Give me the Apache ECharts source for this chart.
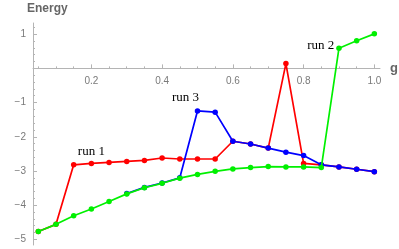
<!DOCTYPE html>
<html>
<head>
<meta charset="utf-8">
<script src="https://cdn.jsdelivr.net/npm/echarts@6/dist/echarts.min.js"></script>
<style>html,body{margin:0;padding:0;background:#fff}#c{width:399px;height:249px}</style>
</head>
<body>
<div id="c"></div>
<script>
// ---- data ----
const gValues = [0.05,0.10,0.15,0.20,0.25,0.30,0.35,0.40,0.45,0.50,0.55,0.60,0.65,0.70,0.75,0.80,0.85,0.90,0.95,1.00];
const run1 = [-4.77,-4.56,-2.82,-2.78,-2.75,-2.72,-2.69,-2.62,-2.65,-2.65,-2.65,-2.13,-2.21,-2.33,0.14,-2.78,-2.82,-2.88,-2.95,-3.02];
const run2 = [-4.77,-4.56,-4.31,-4.11,-3.89,-3.67,-3.49,-3.36,-3.21,-3.10,-3.01,-2.94,-2.90,-2.87,-2.88,-2.88,-2.90,0.59,0.81,1.01];
const run3 = [null,null,null,null,null,-3.66,-3.48,-3.35,-3.20,-1.245,-1.28,-2.13,-2.21,-2.33,-2.45,-2.55,-2.82,-2.88,-2.95,-3.02];
const seriesNames = ['run 1','run 2','run 3'];
const xMajorTicks = [0.2,0.4,0.6,0.8,1.0];
const xMinorTicks = [0.05,0.1,0.15,0.25,0.3,0.35,0.45,0.5,0.55,0.65,0.7,0.75,0.85,0.9,0.95];
const yMajorTicks = [-5,-4,-3,-2,-1,1];
const yMinorTicks = [-5.0,-4.8,-4.6,-4.4,-4.2,-3.8,-3.6,-3.4,-3.2,-2.8,-2.6,-2.4,-2.2,-1.8,-1.6,-1.4,-1.2,-0.8,-0.6,-0.4,-0.2,0.2,0.4,0.6,0.8,1.2];

// ---- styling ----
const axisGray = '#b4b4b4';
const labelGray = '#7a7a7a';
const labelFont = {fontFamily:'Liberation Serif', fontSize:13, color:'#000'};

function build(vals, labelIdx, labelCfg) {
  return vals.map((v, i) => {
    const item = {value: [gValues[i], v === null ? '-' : v]};
    if (i === labelIdx) item.label = Object.assign({show:true, formatter: labelCfg.text}, labelFont, labelCfg.opts);
    return item;
  });
}

const common = {type:'line', xAxisIndex:0, yAxisIndex:0, symbol:'circle', symbolSize:5.5, lineStyle:{width:1.7}, animation:false, connectNulls:false};

const xMin = 0.035, xMax = 1.016, yMin = -5.164, yMax = 1.327;
const L = 33, R = 19, T = 23, B = 4;
const H = 249 - T - B;
const zeroPx = T + H * yMax / (yMax - yMin);

const option = {
  animation:false,
  grid:[
    {left:L, right:R, top:T, bottom:B, containLabel:false, outerBoundsMode:'none'},
    // upper band of the plot: its bottom edge is y = 0, where the g axis is drawn
    {left:L, right:R, top:T, height:zeroPx - T, containLabel:false, outerBoundsMode:'none'}
  ],
  xAxis:[
    {type:'value', gridIndex:0, min:xMin, max:xMax, show:false},
    {type:'value', gridIndex:1, min:xMin, max:xMax, position:'bottom',
     name:'g', nameLocation:'end', nameGap:10,
     nameTextStyle:{fontFamily:'Liberation Sans', fontWeight:'bold', fontSize:13, color:'#666', verticalAlign:'middle', padding:[3,0,0,0]},
     axisLine:{show:true, onZero:false, lineStyle:{color:axisGray, width:1}},
     axisTick:{show:true, inside:true, length:4, customValues:xMajorTicks, lineStyle:{color:axisGray}},
     axisLabel:{show:true, customValues:xMajorTicks, margin:8, fontFamily:'Liberation Sans', fontSize:10, color:labelGray,
       formatter:v => v.toFixed(1)},
     splitLine:{show:false}},
    {type:'value', gridIndex:1, min:xMin, max:xMax, position:'bottom',
     axisLine:{show:false, onZero:false},
     axisTick:{show:true, inside:true, length:2, customValues:xMinorTicks, lineStyle:{color:axisGray}},
     axisLabel:{show:false}, splitLine:{show:false}}
  ],
  yAxis:[
    {type:'value', gridIndex:0, min:yMin, max:yMax, position:'left',
     name:'Energy', nameLocation:'end', nameGap:8,
     nameTextStyle:{fontFamily:'Liberation Sans', fontWeight:'bold', fontSize:12, color:'#666', align:'left', padding:[0,0,0,-6]},
     axisLine:{show:true, onZero:false, lineStyle:{color:axisGray, width:1}},
     axisTick:{show:true, inside:true, length:4, customValues:yMajorTicks, lineStyle:{color:axisGray}},
     axisLabel:{show:true, customValues:yMajorTicks, margin:7, fontFamily:'Liberation Sans', fontSize:10, color:labelGray,
       formatter:v => (v < 0 ? '\u2212' + Math.abs(v) : String(v))},
     splitLine:{show:false}},
    {type:'value', gridIndex:0, min:yMin, max:yMax, position:'left',
     axisLine:{show:false, onZero:false},
     axisTick:{show:true, inside:true, length:2, customValues:yMinorTicks, lineStyle:{color:axisGray}},
     axisLabel:{show:false}, splitLine:{show:false}},
    {type:'value', gridIndex:1, min:0, max:yMax, show:false}
  ],
  series:[
    Object.assign({}, common, {name:seriesNames[0], z:2, color:'#ff0000',
      data: build(run1, 3, {text:seriesNames[0], opts:{position:'top', distance:3}})}),
    Object.assign({}, common, {name:seriesNames[2], z:3, color:'#0000ff',
      data: build(run3, 9, {text:seriesNames[2], opts:{position:'top', distance:4, offset:[-12,0]}})}),
    Object.assign({}, common, {name:seriesNames[1], z:4, color:'#00f000',
      data: build(run2, 17, {text:seriesNames[1], opts:{position:'left', distance:2, offset:[0,-3]}})})
  ]
};
const chart = echarts.init(document.getElementById('c'), null, {renderer:'canvas'});
chart.setOption(option);
</script>
</body>
</html>
